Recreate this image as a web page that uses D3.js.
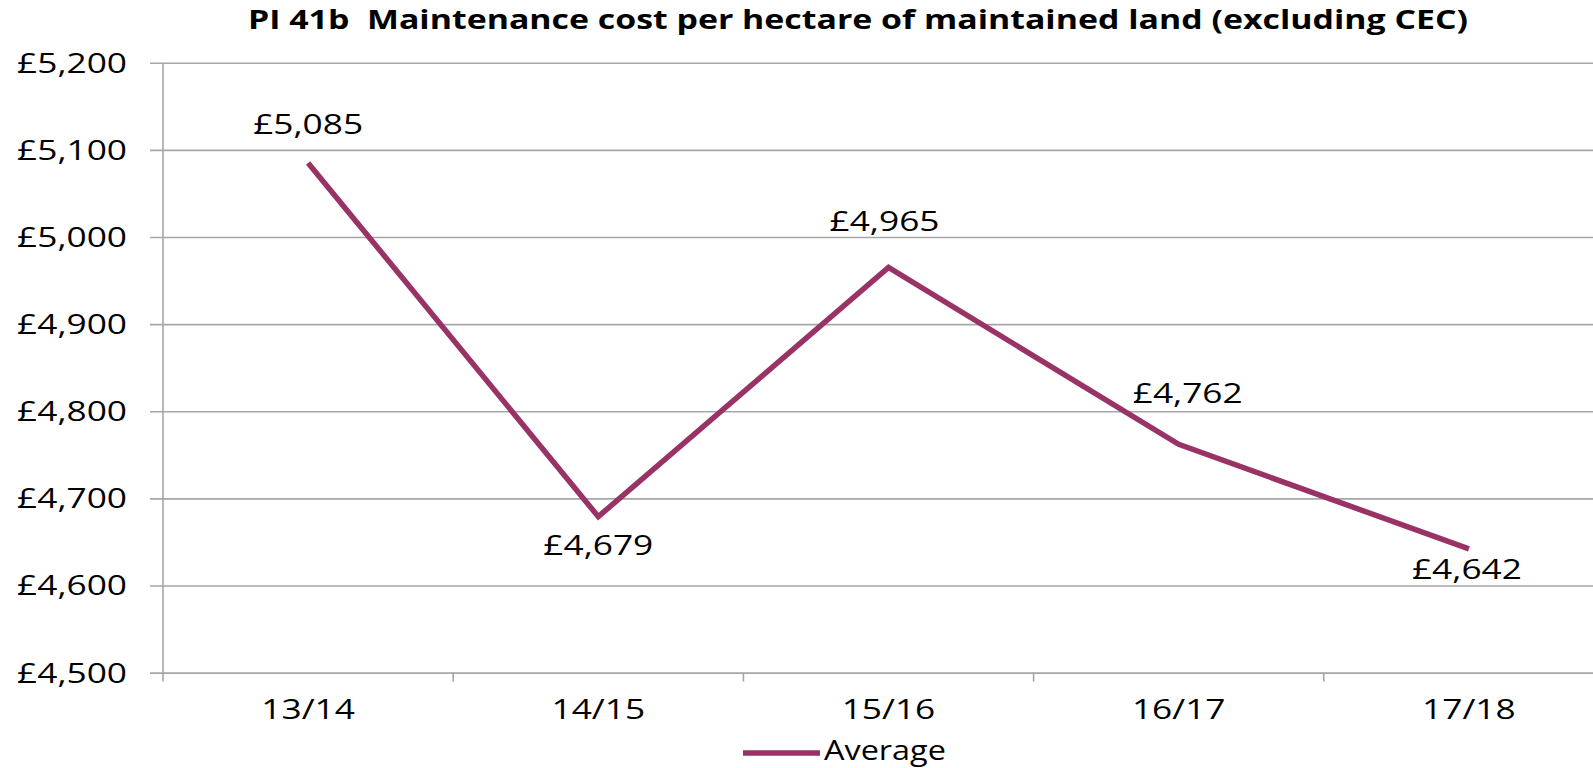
<!DOCTYPE html>
<html>
<head>
<meta charset="utf-8">
<script src="https://cdn.jsdelivr.net/npm/d3@7"></script>
<style>
  html, body { margin: 0; padding: 0; background: #fff; overflow: hidden; }
  svg { display: block; }
  text { font-family: "Open Sans", "Noto Sans", sans-serif; fill: #000; white-space: pre; }
</style>
</head>
<body>
<svg id="chart" width="1593" height="768"></svg>
<script>
// ---- data ----
const title = "PI 41b  Maintenance cost per hectare of maintained land (excluding CEC)";
const categories = ["13/14", "14/15", "15/16", "16/17", "17/18"];
const seriesName = "Average";
const values = [5085, 4679, 4965, 4762, 4642];
const yTicks = [4500, 4600, 4700, 4800, 4900, 5000, 5100, 5200];

// ---- label placement (layout, not data) ----
const labelDx = [0, 0, -4, 9, -2];
const labelDy = [-29, 38, -36, -41, 30];

// ---- layout ----
const W = 1593, H = 768;
const plotLeft = 163, bandStep = 290.2;
const plotTop = 62.7, plotBottom = 672.6;
const color = "#993366";
const sx = 1.26;          // horizontal stretch of the reference's text
const fmt = v => "£" + d3.format(",")(v);

const svg = d3.select("#chart");

const x = d3.scaleBand().domain(categories)
  .range([plotLeft, plotLeft + bandStep * categories.length]).padding(0);
const y = d3.scaleLinear().domain([4500, 5200]).range([plotBottom, plotTop]);

function stretchedText(g, tx, ty, str, size, anchor, scale, weight) {
  return g.append("text")
    .attr("transform", `translate(${tx},${ty}) scale(${scale},1)`)
    .attr("text-anchor", anchor)
    .style("font-size", size + "px")
    .style("font-weight", weight || "normal")
    .text(str);
}

// title
svg.append("text")
  .attr("x", 248).attr("y", 29.3)
  .attr("textLength", 1220).attr("lengthAdjust", "spacingAndGlyphs")
  .style("font-size", "27px").style("font-weight", "bold")
  .text(title);

// y gridlines + ticks
const yAxis = d3.axisLeft(y).tickValues(yTicks).tickSize(-(W + 100)).tickFormat("");
const yg = svg.append("g").attr("transform", `translate(${plotLeft},0)`).call(yAxis);
yg.select(".domain").remove();
yg.selectAll(".tick line").attr("stroke", "#a6a6a6").attr("stroke-width", 1.6)
  .attr("x1", -13);
// y tick labels
const yl = svg.append("g");
yTicks.forEach(t => {
  stretchedText(yl, 127, y(t) + 10, fmt(t), 28, "end", sx);
});

// y axis line
svg.append("line").attr("x1", plotLeft).attr("x2", plotLeft)
  .attr("y1", plotTop).attr("y2", plotBottom + 9)
  .attr("stroke", "#a6a6a6").attr("stroke-width", 1.6);

// x axis ticks at band boundaries
const xb = svg.append("g");
categories.forEach(c => {
  const bx = x(c) + bandStep;
  xb.append("line").attr("x1", bx).attr("x2", bx)
    .attr("y1", plotBottom).attr("y2", plotBottom + 9)
    .attr("stroke", "#a6a6a6").attr("stroke-width", 1.6);
});
// x labels
categories.forEach(c => {
  stretchedText(xb, x(c) + bandStep / 2, 719, c, 28, "middle", sx);
});

// line
const cx = c => x(c) + bandStep / 2;
const line = d3.line().x((d, i) => cx(categories[i])).y(d => y(d));
svg.append("path").datum(values)
  .attr("d", line)
  .attr("fill", "none").attr("stroke", color).attr("stroke-width", 5.5)
  .attr("stroke-linejoin", "miter");

// data labels
const dl = svg.append("g");
values.forEach((v, i) => {
  stretchedText(dl, cx(categories[i]) + labelDx[i], y(v) + labelDy[i], fmt(v), 28, "middle", sx);
});

// legend
const lg = svg.append("g");
lg.append("line").attr("x1", 743).attr("x2", 820).attr("y1", 753).attr("y2", 753)
  .attr("stroke", color).attr("stroke-width", 5.5);
stretchedText(lg, 824, 760, seriesName, 27, "start", 1.2);
</script>
</body>
</html>
